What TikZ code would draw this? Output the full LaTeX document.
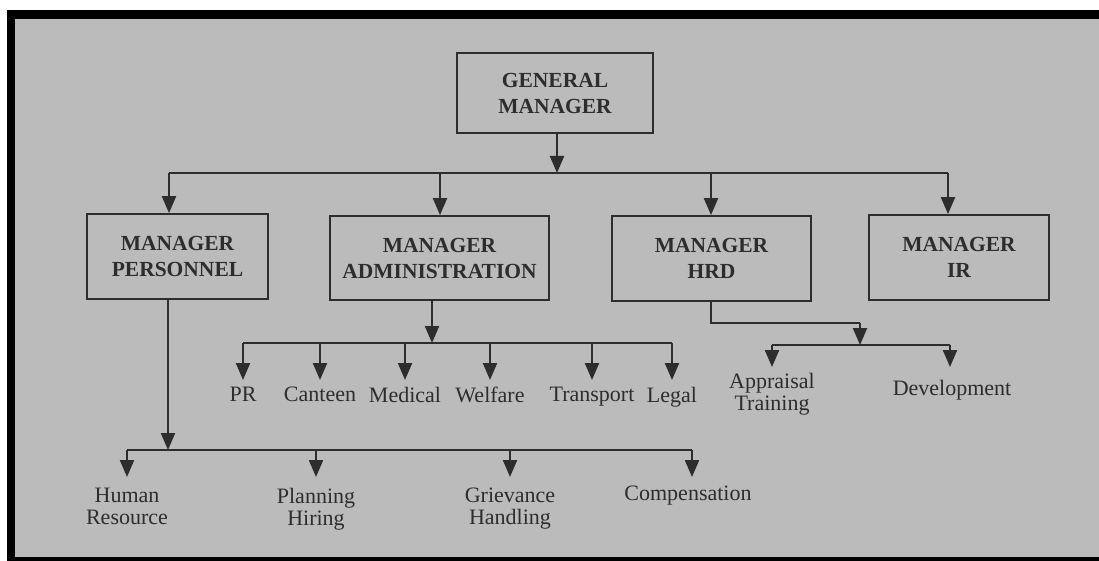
\documentclass[tikz,border=0pt]{standalone}
\usepackage{fontspec}
\setmainfont{Liberation Serif}
\usetikzlibrary{arrows.meta}
\definecolor{paper}{RGB}{187,187,187}
\definecolor{ink}{RGB}{45,45,45}
\begin{document}
\begin{tikzpicture}[x=1pt,y=-1pt,
  box/.style={draw=ink, line width=1.8pt, fill=paper, align=center, text=ink, inner sep=0pt,
    font=\fontsize{21.5}{26}\selectfont\bfseries},
  lab/.style={align=center, text=ink, inner sep=0pt, anchor=north,
    font=\fontsize{22}{22}\selectfont},
  conn/.style={draw=ink, line width=2.2pt},
  arr/.style={conn, -{Triangle[length=17pt,width=14pt]}}]
\useasboundingbox (0,0) rectangle (1099,561);
\fill[white] (0,0) rectangle (1099,561);
\fill[black] (7,10) rectangle (1099,561);
\fill[paper] (15,19) rectangle (1099,557);

% boxes
\node[box, minimum width=196pt, minimum height=80pt] (gm) at (555,93) {GENERAL\\MANAGER};
\node[box, minimum width=181pt, minimum height=85pt] (pers) at (177.5,256.5) {MANAGER\\PERSONNEL};
\node[box, minimum width=219pt, minimum height=84pt] (adm) at (439.5,258) {MANAGER\\ADMINISTRATION};
\node[box, minimum width=199pt, minimum height=85pt] (hrd) at (711.5,258.5) {MANAGER\\HRD};
\node[box, minimum width=180pt, minimum height=85pt] (ir) at (959,257.5) {MANAGER\\IR};

% top bus
\coordinate (gmbus) at (557,173);
\coordinate (b1) at (169,173);
\coordinate (b2) at (440,173);
\coordinate (b3) at (711,173);
\coordinate (b4) at (948,173);
\draw[arr] (gmbus |- gm.south) -- (gmbus);
\draw[conn] (b1) -- (b4);
\draw[arr] (b1) -- (b1 |- pers.north);
\draw[arr] (b2) -- (b2 |- adm.north);
\draw[arr] (b3) -- (b3 |- hrd.north);
\draw[arr] (b4) -- (b4 |- ir.north);

% administration branch
\coordinate (admbus) at (432,343);
\draw[arr] (admbus |- adm.south) -- (admbus);
\coordinate (m1) at (243,343);
\coordinate (m6) at (672,343);
\draw[conn] (m1) -- (m6);
\foreach \i/\x/\t in {1/243/PR, 2/320/Canteen, 3/405/Medical, 4/490/Welfare, 5/592/Transport, 6/672/Legal}{
  \node[lab] (mid\i) at (\x,387) {\t};
  \coordinate (mtop\i) at (\x,343);
  \coordinate (mtip\i) at (\x,380);
  \draw[arr] (mtop\i) -- (mtip\i);
}

% HRD branch
\coordinate (hrdelbow) at (711,323);
\coordinate (hrdturn) at (860,323);
\coordinate (hrdbus) at (860,345);
\draw[conn] (hrd.south -| hrdelbow) -- (hrdelbow) -- (hrdturn);
\draw[arr] (hrdturn) -- (hrdbus);
\coordinate (h1) at (772,345);
\coordinate (h2) at (950,345);
\draw[conn] (h1) -- (h2);
\node[lab] (appr) at (772,373) {Appraisal\\Training};
\node[lab] (dev) at (952,380) {Development};
\coordinate (htip1) at (772,367);
\coordinate (htip2) at (950,367);
\draw[arr] (h1) -- (htip1);
\draw[arr] (h2) -- (htip2);

% personnel branch
\coordinate (persbus) at (168,450);
\draw[arr] (persbus |- pers.south) -- (persbus);
\coordinate (p1) at (127,450);
\coordinate (p4) at (692,450);
\draw[conn] (p1) -- (p4);
\node[lab] (hr) at (127,488) {Human\\Resource};
\node[lab] (plan) at (316,488) {Planning\\Hiring};
\node[lab] (grv) at (510,488) {Grievance\\Handling};
\node[lab] (comp) at (688,486) {Compensation};
\coordinate (ptop2) at (316,450);
\coordinate (ptop3) at (510,450);
\coordinate (ptip1) at (127,477);
\coordinate (ptip2) at (316,477);
\coordinate (ptip3) at (510,477);
\coordinate (ptip4) at (692,477);
\draw[arr] (p1) -- (ptip1);
\draw[arr] (ptop2) -- (ptip2);
\draw[arr] (ptop3) -- (ptip3);
\draw[arr] (p4) -- (ptip4);
\end{tikzpicture}
\end{document}
